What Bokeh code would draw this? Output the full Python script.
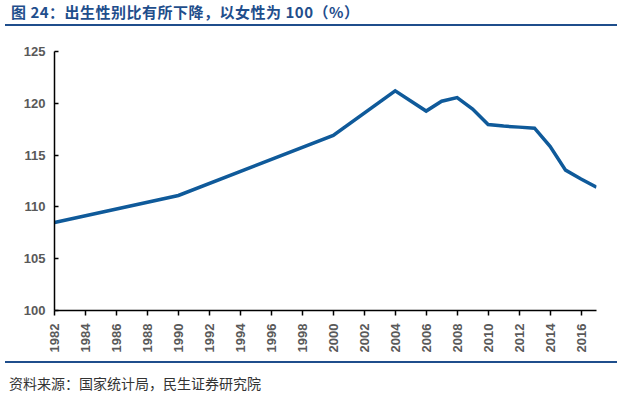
import math
from bokeh.plotting import figure
from bokeh.models import Range1d, FixedTicker, Div
from bokeh.layouts import column
from bokeh.embed import file_html
from bokeh.resources import INLINE

# Data
years = [1982, 1990, 2000, 2004, 2006, 2007, 2008, 2009, 2010, 2011, 2012, 2013, 2014, 2015, 2016, 2017]
ratio = [108.5, 111.1, 116.9, 121.2, 119.25, 120.2, 120.55, 119.45, 117.95, 117.8, 117.7, 117.6, 115.85, 113.55, 112.7, 111.9]
x_ticks = list(range(1982, 2017, 2))
y_ticks = [100, 105, 110, 115, 120, 125]

title_text = "图 24：出生性别比有所下降，以女性为 100（%）"
source_text = "资料来源：国家统计局，民生证券研究院"

NAVY = "#1f4e8c"
LINE = "#0f5a9a"
FONT = "Liberation Sans"

title_div = Div(
    text=title_text, width=612, height=21,
    styles={"font-family": "'Noto Sans CJK SC', sans-serif", "font-size": "15px",
            "font-weight": "bold", "color": NAVY, "border-bottom": f"2.5px solid {NAVY}",
            "padding-left": "6px", "line-height": "14px", "box-sizing": "border-box",
            "letter-spacing": "0.5px"},
)

p = figure(width=612, height=325, output_backend="svg", toolbar_location=None,
           x_range=Range1d(1982, 2017), y_range=Range1d(100, 125),
           min_border_left=54, min_border_right=16, min_border_top=20, min_border_bottom=46)
p.outline_line_color = None
p.xgrid.visible = False
p.ygrid.visible = False
p.background_fill_color = "white"

p.line(years, ratio, line_color=LINE, line_width=3.5, line_join="miter")

p.xaxis.ticker = FixedTicker(ticks=x_ticks)
p.yaxis.ticker = FixedTicker(ticks=y_ticks)
p.xaxis.major_label_orientation = math.pi / 2
for ax in (p.xaxis, p.yaxis):
    ax.axis_line_color = "black"
    ax.axis_line_width = 1.5
    ax.major_tick_line_color = "black"
    ax.major_tick_line_width = 1.5
    ax.minor_tick_line_color = None
    ax.major_label_text_font = FONT
    ax.major_label_text_font_size = "13px"
    ax.major_label_text_font_style = "bold"
    ax.major_label_text_color = "#595959"
p.xaxis.major_tick_in = 0
p.xaxis.major_tick_out = 5
p.xaxis.major_label_standoff = 8
p.yaxis.major_tick_in = 4
p.yaxis.major_tick_out = 0
p.yaxis.major_label_standoff = 9

source_div = Div(
    text=source_text, width=612, height=32,
    styles={"font-family": "'Noto Sans CJK SC', sans-serif", "font-size": "14px",
            "color": "#333333", "border-top": f"2px solid {NAVY}",
            "padding-left": "4px", "padding-top": "13px", "line-height": "14px",
            "box-sizing": "border-box", "overflow": "hidden"},
)

layout = column(title_div, p, source_div, spacing=0)
open("out.html", "w").write(file_html(layout, INLINE))
